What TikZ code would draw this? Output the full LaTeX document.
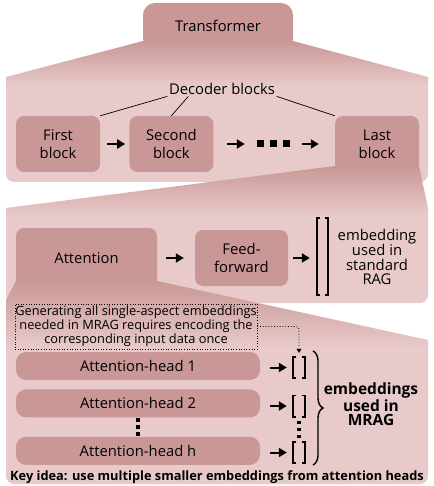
\documentclass[tikz,border=0pt]{standalone}
\usepackage{fontspec}
\setmainfont{Open Sans}
\usetikzlibrary{arrows.meta,positioning,calc,decorations.pathreplacing}

\definecolor{roseDark}{HTML}{C99896}
\definecolor{roseLight}{HTML}{E8CACA}

\tikzset{
	panel/.style={fill=roseLight, rounded corners=8pt},
	funnel/.style={top color=roseDark, bottom color=roseLight},
	block/.style={fill=roseDark, rounded corners=8pt, align=center, inner sep=0pt,
		minimum width=84pt, minimum height=56pt, font=\fontsize{14.8}{18}\selectfont},
	headbox/.style={fill=roseDark, rounded corners=10pt, inner sep=0pt,
		minimum width=244pt, minimum height=28pt, font=\fontsize{14.8}{17}\selectfont},
	flow/.style={-{Triangle[length=8pt,width=9pt]}, line width=2pt},
	brk/.style={line width=1.6pt},
	slot/.style={inner sep=0pt, minimum width=12pt, minimum height=21pt},
}

\begin{document}
\begin{tikzpicture}[x=1pt, y=-1pt]
	\useasboundingbox (0,0) rectangle (433,486);

	\fill[panel] (6,77) rectangle (428,182);
	\fill[roseDark, rounded corners=12pt] (143,50) rectangle (293,3);
	\shade[funnel] (143,41) -- (293,41) -- (428,77) -- (428,86) -- (6,86) -- (6,77) -- cycle;
	\node[font=\fontsize{14.8}{17}\selectfont] (tf) at (218,26) {Transformer};

	\node[inner sep=1.5pt, font=\fontsize{14.8}{17}\selectfont] (dec) at (222,89) {Decoder blocks};
	\node[block] (first) at (58,144) {First\\block};
	\node[block] (second) [right=29pt of first] {Second\\block};
	\node[block] (last) at (377,144) {Last\\block};
	\node[inner sep=0pt, minimum width=36pt, minimum height=8pt] (more) at (273,144) {};
	\foreach \x in {-13,0,13}
		\fill ($(more)+(\x-3.5,-3.5)$) rectangle ++(7,7);

	\draw[flow, shorten <=7pt, shorten >=4pt] (first) -- (second);
	\draw[flow, shorten <=13pt, shorten >=10pt] (second) -- (more);
	\draw[flow, shorten <=11pt, shorten >=16pt] (more) -- (last);
	\draw[line width=0.7pt] (dec.south west) -- (first.north east)
		([xshift=21pt]dec.south west) -- (second.north)
		(dec.south east) -- (last.north west);

	\fill[panel] (6,208) rectangle (428,303);
	\shade[funnel] (335,166) -- (419,166) -- (428,208) -- (428,216) -- (6,216) -- (6,208) -- cycle;

	\node[block, minimum width=141pt, minimum height=60pt] (attn) at (86.5,258) {Attention};
	\node[block, minimum width=93pt] (ff) at (241.5,258) {Feed-\\forward};
	\node[slot, minimum width=11pt, minimum height=77pt] (emb) at (322.5,256.5) {};
	\node[align=center, font=\fontsize{14.8}{14.5}\selectfont] (rag) at (377,257) {embedding\\used in\\standard\\RAG};
	\draw[flow, shorten <=9pt, shorten >=11pt] (attn) -- (ff);
	\draw[flow, shorten <=5pt, shorten >=7pt] (ff) -- (ff -| emb.west);

	\fill[panel] (6,340) rectangle (428,484);
	\shade[funnel] (16,281) -- (157,281) -- (428,340) -- (428,348) -- (6,348) -- (6,300) -- cycle;

	\node[draw, dotted, line width=0.6pt, align=center, inner sep=0pt, minimum width=242pt, minimum height=45pt,
		font=\fontsize{12.8}{14}\selectfont] (note) at (136,326.5)
		{Generating all single-aspect embeddings\\needed in MRAG requires encoding the\\corresponding input data once};

	\node[headbox] (head1) at (138,366) {Attention-head 1};
	\node[headbox] (head2) [below=9pt of head1] {Attention-head 2};
	\node[headbox] (headh) [below=19pt of head2] {Attention-head h};
	\node[slot] (sb1) at (299,367.5) {};
	\node[slot] (sb2) at (299,406) {};
	\node[slot] (sbh) at (299,452.5) {};

	\foreach \h/\s in {head1/sb1, head2/sb2, headh/sbh}
		\draw[flow, shorten <=10pt, shorten >=6pt] (\s.west -| \h.east) -- (\s.west);
	\foreach \n in {emb,sb1,sb2,sbh}
		\draw[brk] ([xshift=3.5pt]\n.north west) -- (\n.north west) -- (\n.south west) -- ([xshift=3.5pt]\n.south west)
			([xshift=-3.5pt]\n.north east) -- (\n.north east) -- (\n.south east) -- ([xshift=-3.5pt]\n.south east);
	\foreach \n/\m in {head2/headh, sb2/sbh}
		\foreach \d in {-7,0,7}
			\fill ($(\n.south)!0.5!(\m.north)+(-1.75,\d-1.75)$) rectangle ++(3.5,3.5);

	\draw[dotted, line width=0.8pt, rounded corners=3pt, -{Triangle[length=4pt,width=5pt]}, shorten >=4pt]
		(note.east) -| (sb1.north);

	\coordinate (bt) at (313,351);
	\coordinate (bb) at (313,465);
	\draw[decorate, decoration={brace, amplitude=10pt}, line width=1.4pt] (bt) -- (bb);
	\node[align=center, font=\bfseries\fontsize{15.5}{14}\selectfont] (mrag) at (371,404) {embeddings\\used in\\MRAG};
	\node[font=\bfseries\fontsize{12.8}{13}\selectfont] (key) at (217,477) {Key idea: use multiple smaller embeddings from attention heads};
\end{tikzpicture}
\end{document}
